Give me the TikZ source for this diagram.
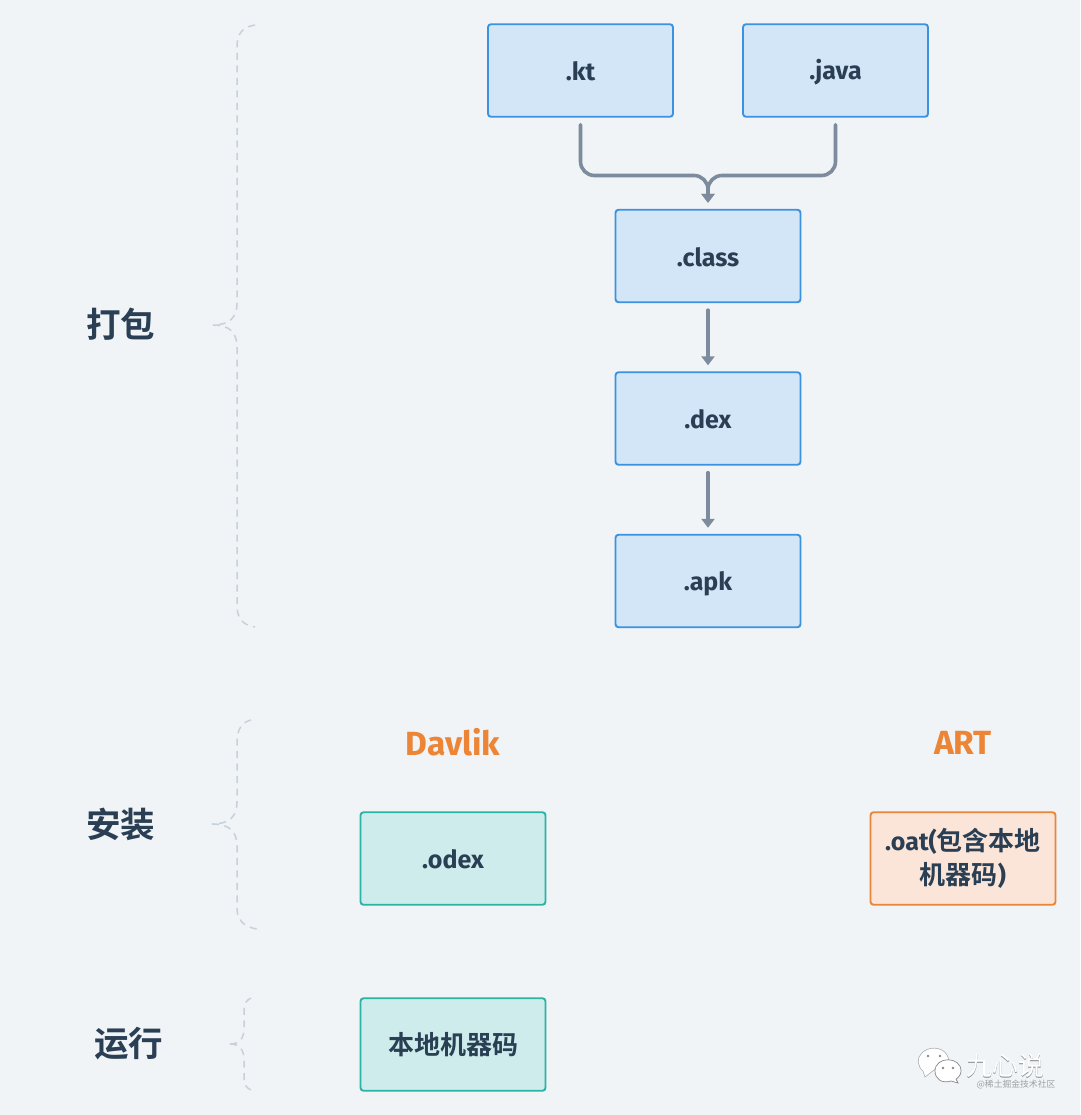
\documentclass[tikz,border=0pt]{standalone}
\usepackage{fontspec}
\setmainfont{Fira Sans}
\newfontfamily\cjk{Noto Sans CJK SC}[BoldFont={Noto Sans CJK SC Bold}]
\usetikzlibrary{arrows.meta}
\definecolor{pagebg}{HTML}{F0F4F7}
\definecolor{ink}{HTML}{2A3F54}
\definecolor{flowgray}{HTML}{7C8C9C}
\definecolor{bracegray}{HTML}{C6D1DB}
\definecolor{tagorange}{HTML}{ED8536}
\newcommand{\boxstrut}{\rule[-4pt]{0pt}{28pt}}
\tikzset{
  box/.style={draw,line width=1.9pt,rounded corners=3pt,minimum width=185pt,minimum height=92.5pt,
    align=center,inner sep=0pt,text=ink,font=\fontsize{25}{34}\selectfont\bfseries},
  flow/.style={draw=flowgray,line width=3.6pt,line cap=round,shorten <=7pt,shorten >=6pt,
    -{Triangle[length=9pt,width=13pt]}},
  brace/.style={draw=bracegray,line width=1.5pt,dash pattern=on 7pt off 5.5pt},
  phase/.style={text=ink,font=\fontsize{34.5}{34.5}\selectfont\cjk\bfseries},
  vm/.style={text=tagorange,font=\fontsize{33.5}{33.5}\selectfont\bfseries},
  cjkin/.style={font=\fontsize{26}{34}\selectfont\cjk\bfseries},
}
\begin{document}
\begin{tikzpicture}[x=1pt,y=-1pt]
\fill[pagebg] (0,0) rectangle (1080,1115);
\useasboundingbox (0,0) rectangle (1080,1115);
% build steps
\definecolor{blueline}{HTML}{3A92E0}
\definecolor{bluefill}{HTML}{D2E6F7}
\foreach\n/\x/\y/\t in {kt/580.5/70.5/.kt,java/835.5/70.5/.java,class/708/256/.class,dex/708/418.5/.dex,apk/708/581/.apk} {
  \node[box,draw=blueline,fill=bluefill] (\n) at (\x,\y) {\boxstrut\t};
}
\coordinate (merge) at (708,175.5);
\draw[flow,rounded corners=14pt] (kt.south) |- (merge) -- (class.north);
\draw[flow,rounded corners=14pt] (java.south) |- (merge) -- (class.north);
\draw[flow] (class) -- (dex);
\draw[flow] (dex) -- (apk);
% runtimes
\definecolor{greenline}{HTML}{2BB3A3}
\definecolor{greenfill}{HTML}{CDECEB}
\definecolor{orangefill}{HTML}{FBE5D8}
\node[vm] (davlik) at (453,742) {Davlik};
\node[vm] (art) at (963,742.5) {ART};
\node[box,draw=greenline,fill=greenfill] (odex) at (453,858.5) {\boxstrut.odex};
\node[box,draw=tagorange,fill=orangefill] (oat) at (963,858.5) {.oat({\fontsize{26}{34}\selectfont\cjk 包含本地}\\{\fontsize{26}{34}\selectfont\cjk 机器码})};
\node[box,cjkin,draw=greenline,fill=greenfill] (native) at (453,1044.5) {本地机器码};
% left labels
\node[phase] (pack) at (120.5,324) {打包};
\node[phase] (install) at (120.5,824) {安装};
\node[phase] (run) at (128.5,1044) {运行};
\draw[brace] (255,25) .. controls (243,27) and (237,33) .. (237,47) -- (237,303) .. controls (237,317) and (230,325) .. (213,325);
\draw[brace] (213,325) .. controls (230,325) and (237,333) .. (237,347) -- (237,605) .. controls (237,619) and (243,625) .. (255,627);
\draw[brace] (251,720) .. controls (243,722) and (237,728) .. (237,742) -- (237,802) .. controls (237,816) and (230,824) .. (212,824);
\draw[brace] (212,824) .. controls (230,824) and (237,832) .. (237,846) -- (237,908) .. controls (237,920) and (244,927) .. (257,929);
\draw[brace] (251,998) .. controls (247,1000) and (244,1003) .. (244,1010) -- (244,1028) .. controls (244,1038) and (240,1044) .. (230,1044);
\draw[brace] (230,1044) .. controls (240,1044) and (244,1050) .. (244,1060) -- (244,1080) .. controls (244,1085) and (247,1088) .. (251,1090);
% watermark
\definecolor{markgray}{HTML}{85898D}
\fill[white,draw=markgray!70,line width=.6pt] (923,1071) .. controls (917,1066) and (917,1058) .. (921,1054) .. controls (927,1046) and (942,1046) .. (947,1055) .. controls (949,1059) and (949,1061) .. (948,1063) -- (934,1070) -- (925,1077) -- cycle;
\fill[white,draw=markgray,line width=.7pt] (958,1083) -- (951,1081) .. controls (942,1084) and (935,1079) .. (935,1071) .. controls (935,1056) and (961,1056) .. (961,1071) .. controls (961,1075) and (958,1078) .. (956,1079) -- cycle;
\foreach\x/\y in {928/1056,940/1056,943/1068,953/1068} {
  \fill[markgray] (\x,\y) circle (1.4);
}
\node[text=markgray,font=\fontsize{26}{26}\selectfont\cjk] (markshade) at (1005.6,1066.6) {九心说};
\node[text=white,font=\fontsize{26}{26}\selectfont\cjk] (markname) at (1005,1066) {九心说};
\node[text=markgray!80,font=\fontsize{8.8}{9}\selectfont\cjk] (marksite) at (1016,1085) {@稀土掘金技术社区};
\end{tikzpicture}
\end{document}
